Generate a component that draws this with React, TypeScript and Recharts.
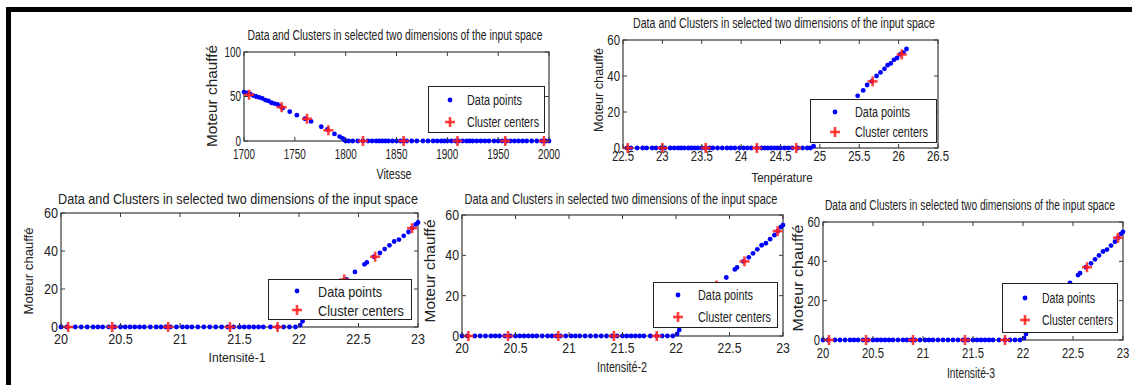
import React from 'react';
import { ScatterChart, Scatter, XAxis, YAxis, Legend, Label } from 'recharts';

const FONT = '"Liberation Sans", Arial, Helvetica, sans-serif';
const AXIS = '#3a3a3a';
const TEXT = '#222';
const AX_SIZE = 20;

// --- Vitesse panel ---
const vitesseX = [
  1700, 1703, 1706, 1709, 1712, 1715, 1718, 1721, 1724, 1727, 1730, 1733, 1736, 1738,
  1745, 1752, 1760, 1766, 1776, 1782, 1789, 1794, 1797, 1799, 1800,
  1803, 1807, 1812, 1817, 1822, 1826, 1830, 1833, 1836, 1839, 1842, 1846, 1850, 1854,
  1857, 1860, 1865, 1870, 1876, 1881, 1886, 1890, 1894, 1897, 1900, 1904, 1908, 1911,
  1915, 1919, 1922, 1925, 1929, 1933, 1937, 1941, 1946, 1950, 1954, 1958, 1962, 1966,
  1970, 1974, 1978, 1983, 1988, 1993, 1997, 2000,
];
const vitesseY = [
  55, 54, 53, 51, 50, 49, 48, 46, 45, 43, 42, 41, 39, 37,
  33, 29, 25, 22, 16, 13, 8, 5, 3, 1, 0,
  0, 0, 0, 0, 0, 0, 0, 0, 0, 0, 0, 0, 0, 0,
  0, 0, 0, 0, 0, 0, 0, 0, 0, 0, 0, 0, 0, 0,
  0, 0, 0, 0, 0, 0, 0, 0, 0, 0, 0, 0, 0, 0,
  0, 0, 0, 0, 0, 0, 0, 0,
];
const vitesseCentersX = [1705, 1737, 1762, 1783, 1817, 1857, 1910, 1957, 1995];
const vitesseCentersY = [52, 38, 25, 12, 0, 0, 0, 0, 0];
const vitesseTicks = [1700, 1750, 1800, 1850, 1900, 1950, 2000];
const vitesseYTicks = [0, 50, 100];

// --- Température panel ---
const tempX = [
  22.55, 22.6, 22.68, 22.75, 22.8, 22.87, 22.92, 22.98, 23.03, 23.1, 23.15, 23.2, 23.24,
  23.28, 23.33, 23.37, 23.41, 23.45, 23.5, 23.55, 23.6, 23.64, 23.7, 23.76, 23.82, 23.87,
  23.92, 23.98, 24.03, 24.08, 24.13, 24.2, 24.26, 24.3, 24.34, 24.38, 24.42, 24.46, 24.5,
  24.55, 24.6, 24.65, 24.72, 24.78, 24.84, 24.88,
  24.92, 24.95, 24.98, 25.05, 25.15, 25.25, 25.35, 25.48, 25.55, 25.6, 25.66, 25.72,
  25.77, 25.82, 25.86, 25.9, 25.94, 25.98, 26.02, 26.06, 26.1,
];
const tempY = [
  0, 0, 0, 0, 0, 0, 0, 0, 0, 0, 0, 0, 0,
  0, 0, 0, 0, 0, 0, 0, 0, 0, 0, 0, 0, 0,
  0, 0, 0, 0, 0, 0, 0, 0, 0, 0, 0, 0, 0,
  0, 0, 0, 0, 0, 0, 0,
  1, 4, 7, 11, 15, 20, 24, 29, 32, 35, 37, 40,
  42, 44, 46, 47, 49, 50, 52, 53, 55,
];
const tempCentersX = [22.56, 23.0, 23.55, 24.2, 24.7, 25.67, 26.04];
const tempCentersY = [0, 0, 0, 0, 0, 37, 52];
const tempTicks = [22.5, 23, 23.5, 24, 24.5, 25, 25.5, 26, 26.5];

// --- Intensité panels ---
const intensX = [
  20.0, 20.05, 20.12, 20.17, 20.22, 20.27, 20.31, 20.35, 20.4, 20.45, 20.5, 20.54, 20.58,
  20.62, 20.66, 20.7, 20.75, 20.8, 20.84, 20.88, 20.92, 20.97, 21.02, 21.06, 21.1, 21.15,
  21.2, 21.25, 21.3, 21.35, 21.4, 21.45, 21.5, 21.54, 21.58, 21.62, 21.66, 21.7, 21.76,
  21.82, 21.87, 21.92, 21.97,
  22.01, 22.03, 22.05, 22.1, 22.17, 22.25, 22.32, 22.4, 22.47, 22.55, 22.57, 22.63,
  22.68, 22.72, 22.76, 22.8, 22.84, 22.88, 22.92, 22.95, 22.98, 23.0,
];
const intensY = [
  0, 0, 0, 0, 0, 0, 0, 0, 0, 0, 0, 0, 0,
  0, 0, 0, 0, 0, 0, 0, 0, 0, 0, 0, 0, 0,
  0, 0, 0, 0, 0, 0, 0, 0, 0, 0, 0, 0, 0,
  0, 0, 0, 0,
  1, 3, 6, 9, 13, 17, 21, 25, 29, 33, 34, 37,
  39, 41, 43, 45, 46, 48, 50, 52, 54, 55,
];
const intensCentersX = [20.06, 20.43, 20.9, 21.42, 21.82, 22.38, 22.64, 22.95];
const intensCentersY = [0, 0, 0, 0, 0, 25, 37, 52];
const intensTicks = [20, 20.5, 21, 21.5, 22, 22.5, 23];
const sixtyTicks = [0, 20, 40, 60];

const TITLE = 'Data and Clusters in selected two dimensions of the input space';
const YLABEL = 'Moteur chauffé';

const zip = (xs: number[], ys: number[]) => xs.map((x, i) => ({ x, y: ys[i] }));

type Panel = {
  box: [number, number, number, number];
  xDomain: [number, number];
  xTicks: number[];
  yDomain: [number, number];
  yTicks: number[];
  data: { x: number; y: number }[];
  centers: { x: number; y: number }[];
  tickFs: number;
  tickSx: number;
  tickDy: number;
  title: { cx: number; cy: number; w: number; fs: number };
  xlabel: { text: string; cx: number; cy: number; w: number; fs: number };
  ylabel: { cx: number; cy: number; len: number; fs: number };
  legend: { x: number; y: number; w: number; h: number; r1: number; r2: number; mx: number; tx: number; w1: number; w2: number; fs: number };
};

const panels: Panel[] = [
  {
    box: [244, 52, 549, 141],
    xDomain: [1700, 2000], xTicks: vitesseTicks, yDomain: [0, 100], yTicks: vitesseYTicks,
    data: zip(vitesseX, vitesseY), centers: zip(vitesseCentersX, vitesseCentersY),
    tickFs: 15, tickSx: 0.66, tickDy: 13,
    title: { cx: 395, cy: 35, w: 295, fs: 14 },
    xlabel: { text: 'Vitesse', cx: 394, cy: 174, w: 35, fs: 14 },
    ylabel: { cx: 212, cy: 96, len: 102, fs: 14 },
    legend: { x: 428, y: 86, w: 117, h: 47, r1: 14, r2: 36, mx: 22, tx: 39, w1: 55, w2: 72, fs: 14 },
  },
  {
    box: [623, 40, 938, 148],
    xDomain: [22.5, 26.5], xTicks: tempTicks, yDomain: [0, 60], yTicks: sixtyTicks,
    data: zip(tempX, tempY), centers: zip(tempCentersX, tempCentersY),
    tickFs: 15, tickSx: 0.76, tickDy: 8,
    title: { cx: 784, cy: 23, w: 302, fs: 14 },
    xlabel: { text: 'Tenpérature', cx: 782, cy: 177, w: 61, fs: 13 },
    ylabel: { cx: 598, cy: 90, len: 84, fs: 13 },
    legend: { x: 810, y: 99, w: 127, h: 44, r1: 13, r2: 33, mx: 25, tx: 45, w1: 55, w2: 73, fs: 14 },
  },
  {
    box: [61, 213, 418, 327],
    xDomain: [20, 23], xTicks: intensTicks, yDomain: [0, 60], yTicks: sixtyTicks,
    data: zip(intensX, intensY), centers: zip(intensCentersX, intensCentersY),
    tickFs: 15, tickSx: 0.84, tickDy: 12,
    title: { cx: 238, cy: 199, w: 360, fs: 14 },
    xlabel: { text: 'Intensité-1', cx: 237, cy: 357, w: 57, fs: 13 },
    ylabel: { cx: 28, cy: 271, len: 87, fs: 13 },
    legend: { x: 268, y: 279, w: 144, h: 41, r1: 12, r2: 31, mx: 29, tx: 50, w1: 64, w2: 86, fs: 15 },
  },
  {
    box: [462, 215, 783, 336],
    xDomain: [20, 23], xTicks: intensTicks, yDomain: [0, 60], yTicks: sixtyTicks,
    data: zip(intensX, intensY), centers: zip(intensCentersX, intensCentersY),
    tickFs: 15, tickSx: 0.82, tickDy: 12,
    title: { cx: 621, cy: 199, w: 313, fs: 14 },
    xlabel: { text: 'Intensité-2', cx: 622, cy: 367, w: 50, fs: 14 },
    ylabel: { cx: 430, cy: 271, len: 103, fs: 14 },
    legend: { x: 653, y: 282, w: 125, h: 46, r1: 13, r2: 35, mx: 25, tx: 45, w1: 55, w2: 73, fs: 14 },
  },
  {
    box: [823, 222, 1123, 340],
    xDomain: [20, 23], xTicks: intensTicks, yDomain: [0, 60], yTicks: sixtyTicks,
    data: zip(intensX, intensY), centers: zip(intensCentersX, intensCentersY),
    tickFs: 15, tickSx: 0.75, tickDy: 13,
    title: { cx: 970, cy: 205, w: 290, fs: 14 },
    xlabel: { text: 'Intensité-3', cx: 971, cy: 373, w: 48, fs: 14 },
    ylabel: { cx: 798, cy: 278, len: 107, fs: 14 },
    legend: { x: 1002, y: 283, w: 116, h: 50, r1: 15, r2: 37, mx: 23, tx: 40, w1: 53, w2: 71, fs: 14 },
  },
];

const BlueDot = (props: any) => <circle cx={props.cx} cy={props.cy} r={2.4} fill="#0000ff" />;

const RedPlus = (props: any) => {
  const { cx, cy } = props;
  const a = 5;
  return (
    <g stroke="#ff2020" strokeWidth={2.6} strokeOpacity={0.85}>
      <line x1={cx - a} x2={cx + a} y1={cy} y2={cy} />
      <line x1={cx} x2={cx} y1={cy - a} y2={cy + a} />
    </g>
  );
};

const ChartPanel = ({ p }: { p: Panel }) => {
  const [L, T, R, B] = p.box;
  const lg = p.legend;

  const xTick = (props: any) => (
    <g>
      <line x1={props.x} x2={props.x} y1={B} y2={B - 4} stroke={AXIS} />
      <line x1={props.x} x2={props.x} y1={T} y2={T + 4} stroke={AXIS} />
      <text
        transform={`translate(${props.x},${B + p.tickDy}) scale(${p.tickSx},1)`}
        textAnchor="middle" dominantBaseline="central"
        fontSize={p.tickFs} fontFamily={FONT} fill={TEXT}
      >
        {props.payload.value}
      </text>
    </g>
  );

  const yTick = (props: any) => (
    <g>
      <line x1={L} x2={L + 4} y1={props.y} y2={props.y} stroke={AXIS} />
      <line x1={R} x2={R - 4} y1={props.y} y2={props.y} stroke={AXIS} />
      <text
        transform={`translate(${L - 3},${props.y}) scale(${p.tickSx},1)`}
        textAnchor="end" dominantBaseline="central"
        fontSize={p.tickFs} fontFamily={FONT} fill={TEXT}
      >
        {props.payload.value}
      </text>
    </g>
  );

  const texts = () => (
    <g fontFamily={FONT} fill={TEXT}>
      <rect x={L} y={T} width={R - L} height={B - T} fill="none" stroke={AXIS} strokeWidth={1.2} />
      <text x={p.title.cx} y={p.title.cy} textAnchor="middle" dominantBaseline="central"
        fontSize={p.title.fs} textLength={p.title.w} lengthAdjust="spacingAndGlyphs">
        {TITLE}
      </text>
      <text x={p.xlabel.cx} y={p.xlabel.cy} textAnchor="middle" dominantBaseline="central"
        fontSize={p.xlabel.fs} textLength={p.xlabel.w} lengthAdjust="spacingAndGlyphs">
        {p.xlabel.text}
      </text>
      <text x={0} y={0} transform={`translate(${p.ylabel.cx},${p.ylabel.cy}) rotate(-90)`}
        textAnchor="middle" dominantBaseline="central"
        fontSize={p.ylabel.fs} textLength={p.ylabel.len} lengthAdjust="spacingAndGlyphs">
        {YLABEL}
      </text>
    </g>
  );

  const legendBox = () => (
    <svg width={lg.w} height={lg.h} style={{ display: 'block', overflow: 'visible' }}>
      <rect x={0.5} y={0.5} width={lg.w - 1} height={lg.h - 1} fill="#fff" stroke="#222" />
      <circle cx={lg.mx} cy={lg.r1} r={2.4} fill="#0000ff" />
      <g stroke="#ff2020" strokeWidth={2.6} strokeOpacity={0.85}>
        <line x1={lg.mx - 5} x2={lg.mx + 5} y1={lg.r2} y2={lg.r2} />
        <line x1={lg.mx} x2={lg.mx} y1={lg.r2 - 5} y2={lg.r2 + 5} />
      </g>
      <text x={lg.tx} y={lg.r1} dominantBaseline="central" fontFamily={FONT} fontSize={lg.fs}
        fill={TEXT} textLength={lg.w1} lengthAdjust="spacingAndGlyphs">Data points</text>
      <text x={lg.tx} y={lg.r2} dominantBaseline="central" fontFamily={FONT} fontSize={lg.fs}
        fill={TEXT} textLength={lg.w2} lengthAdjust="spacingAndGlyphs">Cluster centers</text>
    </svg>
  );

  return (
    <div style={{ position: 'absolute', left: 0, top: 0 }}>
      <ScatterChart
        width={1132}
        height={385}
        margin={{ top: T, left: L - AX_SIZE, right: 1132 - R, bottom: 385 - B - AX_SIZE }}
      >
        <XAxis
          type="number" dataKey="x" domain={p.xDomain} ticks={p.xTicks}
          height={AX_SIZE} axisLine={false} tickLine={false} tick={xTick} interval={0}
        >
          <Label content={texts} />
        </XAxis>
        <YAxis
          type="number" dataKey="y" domain={p.yDomain} ticks={p.yTicks}
          width={AX_SIZE} axisLine={false} tickLine={false} tick={yTick} interval={0}
        />
        <Scatter data={p.data} shape={BlueDot} isAnimationActive={false} />
        <Scatter data={p.centers} shape={RedPlus} isAnimationActive={false} />
        <Legend
          layout="horizontal" verticalAlign="middle" align="center"
          wrapperStyle={{ position: 'absolute', left: lg.x, top: lg.y, width: lg.w, height: lg.h, margin: 0, padding: 0, lineHeight: 0 }}
          content={legendBox}
        />
      </ScatterChart>
    </div>
  );
}

export default function App() {
  return (
    <div style={{ position: 'absolute', left: 0, top: 0, width: 1132, height: 385, background: '#fff', overflow: 'hidden' }}>
      <div style={{ position: 'absolute', left: 6, top: 7, width: 1132, height: 385, borderTop: '5px solid #000', borderLeft: '5px solid #000' }} />
      {panels.map((p, i) => (
        <ChartPanel key={i} p={p} />
      ))}
    </div>
  );
}
